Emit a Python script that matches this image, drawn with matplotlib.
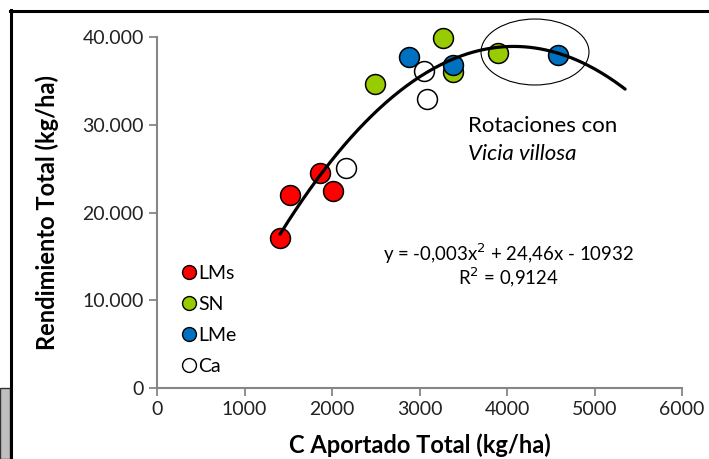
import numpy as np
import matplotlib
matplotlib.use("Agg")
import matplotlib.pyplot as plt
from matplotlib.patches import Ellipse, Rectangle
from matplotlib.lines import Line2D

plt.rcParams['font.family'] = ['Lato', 'DejaVu Sans']

# data: C aportado (kg/ha), rendimiento (kg/ha)
lms_x = [1406, 1520, 1863, 2011]
lms_y = [17100, 22000, 24500, 22450]
sn_x = [2491, 3269, 3383, 3897]
sn_y = [34650, 39880, 36050, 38180]
lme_x = [2880, 3383, 4583]
lme_y = [37720, 36800, 37950]
ca_x = [2160, 3051, 3086]
ca_y = [25070, 36120, 32930]

# polynomial trendline as labelled on the chart
coef = [-0.003, 24.46, -10932]
trend_range = [1406, 5350]

x_ticks = [0, 1000, 2000, 3000, 4000, 5000, 6000]
y_ticks = [0, 10000, 20000, 30000, 40000]
y_tick_labels = ['0', '10.000', '20.000', '30.000', '40.000']

fig = plt.figure(figsize=(7.09, 4.59), dpi=100)
W, H = 709, 459
ax = fig.add_axes([157 / W, 1 - 388 / H, (682 - 157) / W, (388 - 37) / H])

ms = 205
series = [
    (lms_x, lms_y, '#FF0000', 'LMs'),
    (sn_x, sn_y, '#99CC00', 'SN'),
    (lme_x, lme_y, '#0070C0', 'LMe'),
    (ca_x, ca_y, '#FFFFFF', 'Ca'),
]
handles = []
for xs, ys, col, lab in series:
    ax.scatter(xs, ys, s=ms, c=col, edgecolors='black', linewidths=1.1, zorder=3,
               clip_on=False)
    handles.append(Line2D([], [], marker='o', linestyle='none', markersize=10,
                          markerfacecolor=col, markeredgecolor='black',
                          markeredgewidth=1.0, label=lab))

xt = np.linspace(trend_range[0], trend_range[1], 200)
ax.plot(xt, np.polyval(coef, xt), color='black', lw=2.3, zorder=4,
        solid_capstyle='round', clip_on=False)

ax.add_patch(Ellipse((4320, 38290), 1234, 7520, fill=False, edgecolor='black',
                     lw=0.8, zorder=5, clip_on=False))

ax.text(3560, 29850, 'Rotaciones con', fontsize=16, va='center', ha='left')
ax.text(3560, 26650, 'Vicia villosa', fontsize=16, va='center', ha='left',
        style='italic')

ax.text(4020, 15350, 'y = -0,003x$^2$ + 24,46x - 10932', fontsize=13.4, ha='center',
        va='center')
ax.text(4020, 12620, 'R$^2$ = 0,9124', fontsize=13.4, ha='center', va='center')

ax.legend(handles=handles, loc='upper left', bbox_to_anchor=(0.027, 0.373),
          frameon=False, fontsize=14, handletextpad=0.0, labelspacing=0.72,
          handlelength=1.0, borderaxespad=0)

ax.set_xlim(0, 6000)
ax.set_ylim(0, 40000)
ax.set_xticks(x_ticks)
ax.set_yticks(y_ticks)
ax.set_yticklabels(y_tick_labels)
for s in ['top', 'right']:
    ax.spines[s].set_visible(False)
for s in ['left', 'bottom']:
    ax.spines[s].set_color('#868686')
    ax.spines[s].set_linewidth(1.5)
ax.tick_params(colors='#868686', labelcolor='#222222', labelsize=14, length=6,
               width=1.3, direction='out')
ax.spines['left'].set_bounds(0, 40000)

ax.set_xlabel('C Aportado Total (kg/ha)', fontsize=17, fontweight='bold', labelpad=11)
ax.set_ylabel('Rendimiento Total (kg/ha)', fontsize=17, fontweight='bold', labelpad=17)

# frame of the cropped screenshot
fig.add_artist(Line2D([10 / W, 1], [1 - 11 / H, 1 - 11 / H], color='black', lw=2.2))
fig.add_artist(Line2D([11 / W, 11 / W], [0, 1 - 10 / H], color='black', lw=2.2))
fig.add_artist(Rectangle((0, 0), 10 / W, 1 - 388 / H, facecolor='#BFBFBF',
                         edgecolor='#333333', lw=1.0))

fig.savefig('out.png', dpi=100)
